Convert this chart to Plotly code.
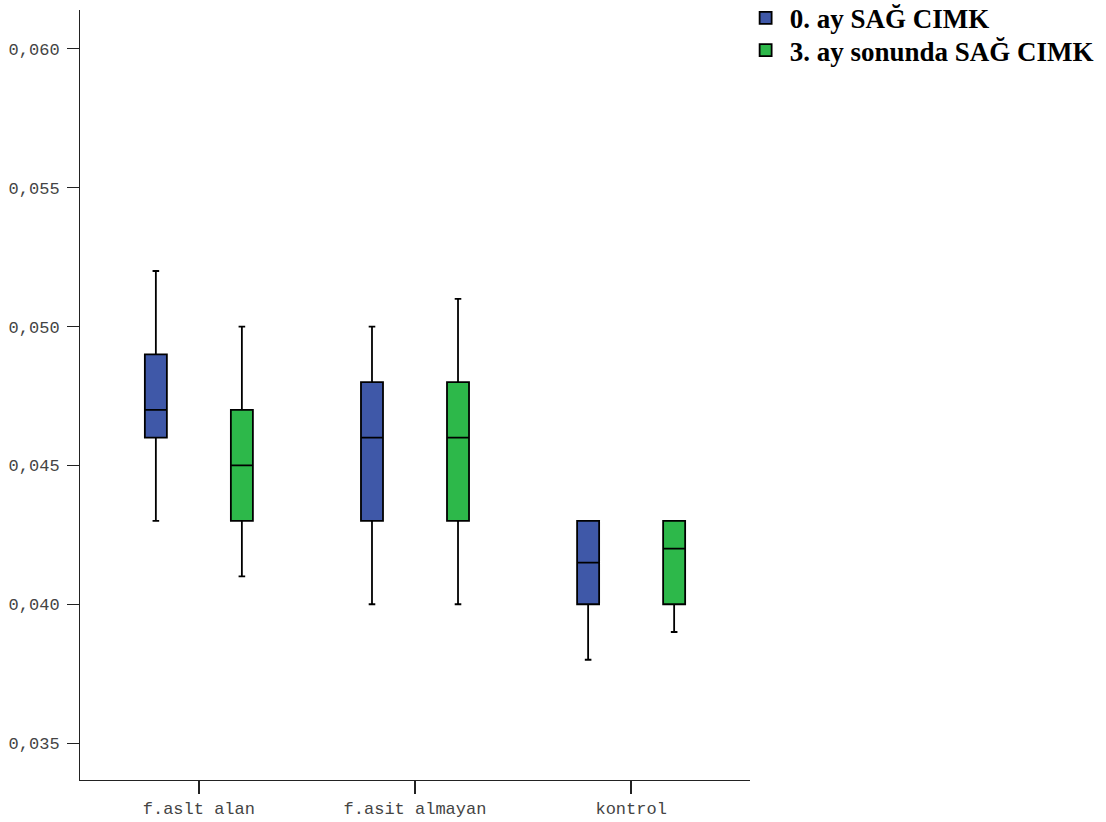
import plotly.graph_objects as go

categories = ["f.aslt alan", "f.asit almayan", "kontrol"]
series_names = ["0. ay SAĞ CIMK", "3. ay sonunda SAĞ CIMK"]
colors = ["#3F58A8", "#2DB84A"]

# per series: lower whisker, q1, median, q3, upper whisker (per category)
lower = [[0.043, 0.040, 0.038], [0.041, 0.040, 0.039]]
q1 = [[0.046, 0.043, 0.040], [0.043, 0.043, 0.040]]
median = [[0.047, 0.046, 0.0415], [0.045, 0.046, 0.042]]
q3 = [[0.049, 0.048, 0.043], [0.047, 0.048, 0.043]]
upper = [[0.052, 0.050, 0.043], [0.050, 0.051, 0.043]]

y_ticks = [0.035, 0.040, 0.045, 0.050, 0.055, 0.060]

legend_ids = ["legend", "legend2"]

fig = go.Figure()
for i, name in enumerate(series_names):
    fig.add_trace(go.Box(
        name=name,
        x=categories,
        q1=q1[i], median=median[i], q3=q3[i],
        lowerfence=lower[i], upperfence=upper[i],
        fillcolor=colors[i],
        line=dict(color="black", width=1.8),
        whiskerwidth=0.3,
        boxpoints=False,
        hoverinfo="skip",
        legend=legend_ids[i],
    ))

legend_font = dict(family="Liberation Serif", size=27, color="black", weight="bold")

fig.update_layout(
    width=1106, height=822,
    margin=dict(l=80, r=356, t=10, b=42, autoexpand=False),
    paper_bgcolor="white", plot_bgcolor="white",
    boxmode="group", boxgap=0.204, boxgroupgap=0.744,
    separators=",.",
    showlegend=True,
    legend=dict(
        x=0.9875, y=1.021, xanchor="left", yanchor="top",
        font=legend_font, bgcolor="rgba(0,0,0,0)", itemwidth=38,
    ),
    legend2=dict(
        x=0.9875, y=0.979, xanchor="left", yanchor="top",
        font=legend_font, bgcolor="rgba(0,0,0,0)", itemwidth=38,
    ),
    xaxis=dict(
        range=[-0.55, 2.55],
        showline=True, linecolor="#222", linewidth=1,
        ticks="outside", ticklen=13, tickwidth=2, tickcolor="#222",
        showgrid=False, zeroline=False,
        ticklabelstandoff=0,
        tickfont=dict(family="Liberation Mono", size=17, color="#444"),
    ),
    yaxis=dict(
        range=[0.03367, 0.0614],
        tickvals=y_ticks, tickformat=".3f",
        showline=True, linecolor="#222", linewidth=1,
        ticks="outside", ticklen=12, tickwidth=1, tickcolor="#222",
        showgrid=False, zeroline=False,
        ticklabelstandoff=4,
        tickfont=dict(family="Liberation Mono", size=17, color="#444"),
    ),
)

fig.write_html("out.html")
